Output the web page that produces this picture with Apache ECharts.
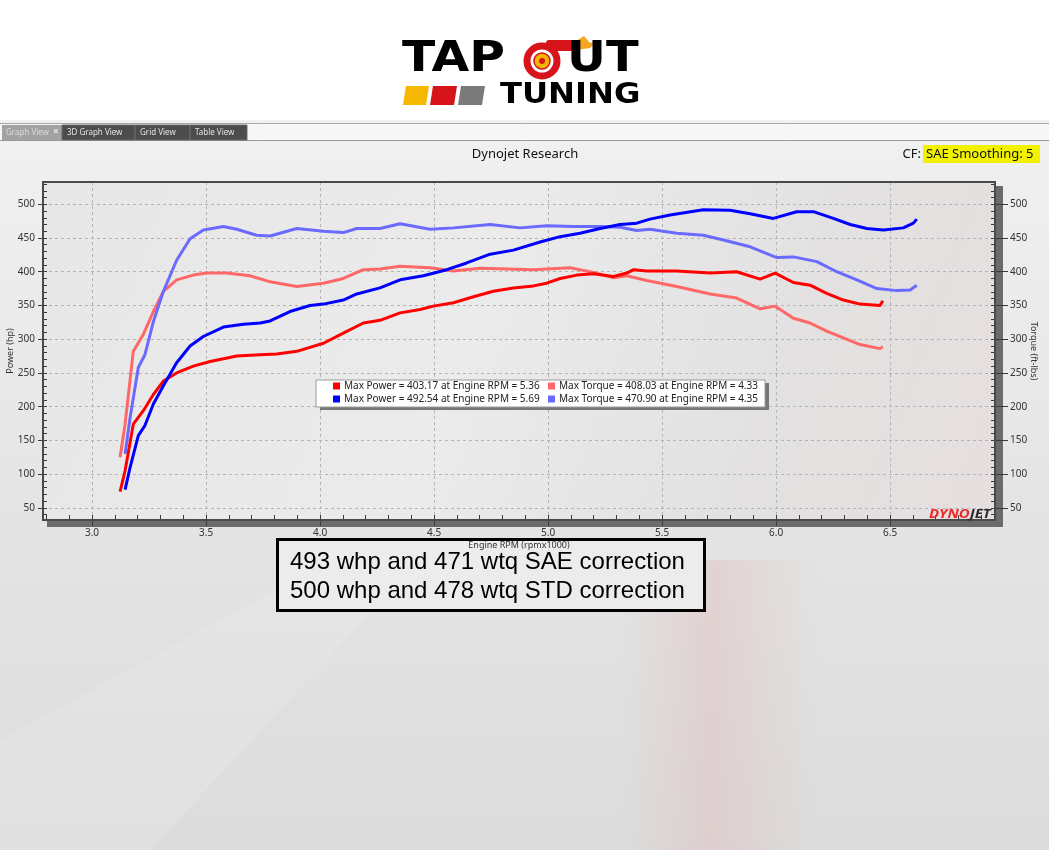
<!DOCTYPE html>
<html><head><meta charset="utf-8">
<script src="https://cdn.jsdelivr.net/npm/echarts@6/dist/echarts.min.js"></script>
<style>html,body{margin:0;padding:0;background:#fff}#c{width:1049px;height:850px}</style>
</head><body><div id="c"></div>
<script>
// ---- data (engine rpm in thousands) ----
const run1PowerRpm = [3.123,3.145,3.181,3.225,3.269,3.313,3.371,3.444,3.518,3.635,3.737,3.810,3.898,4.015,4.102,4.190,4.263,4.351,4.439,4.497,4.585,4.673,4.760,4.848,4.936,4.994,5.053,5.126,5.199,5.287,5.345,5.375,5.433,5.564,5.711,5.827,5.930,5.996,6.076,6.149,6.222,6.295,6.368,6.456,6.468];
const run1Power    = [74,105,174,194,218,238,250,260,267,275,277,278,282,294,309,324,328,339,344,349,354,363,371,376,379,383,390,395,397,393,398,403,401,401,398,400,389,398,384,380,368,358,352,350,357];
const run1TorqueRpm = [3.123,3.145,3.181,3.225,3.269,3.313,3.371,3.444,3.503,3.591,3.693,3.781,3.898,4.015,4.102,4.190,4.263,4.351,4.482,4.585,4.702,4.819,4.936,5.096,5.199,5.287,5.345,5.433,5.564,5.711,5.827,5.930,5.996,6.076,6.149,6.222,6.295,6.368,6.456,6.468];
const run1Torque    = [125,174,282,307,341,371,388,395,398,398,394,385,378,383,390,403,404,408,406,401,405,404,403,406,399,391,394,387,378,367,361,345,349,331,324,312,302,292,286,289];
const run2PowerRpm = [3.145,3.167,3.203,3.232,3.269,3.313,3.371,3.430,3.488,3.576,3.664,3.737,3.781,3.868,3.956,4.015,4.102,4.161,4.263,4.351,4.453,4.556,4.643,4.746,4.848,4.965,5.053,5.140,5.228,5.316,5.389,5.447,5.535,5.681,5.798,5.886,5.988,6.090,6.164,6.251,6.325,6.398,6.471,6.558,6.602,6.617];
const run2Power    = [77,110,157,172,204,231,265,290,304,318,322,324,327,341,350,352,358,367,376,388,394,403,413,426,432,444,452,457,464,470,472,478,484,492,491,486,479,489,489,479,470,464,462,465,472,478];
const run2TorqueRpm = [3.145,3.167,3.203,3.232,3.269,3.313,3.371,3.430,3.488,3.576,3.635,3.722,3.781,3.898,4.015,4.102,4.161,4.263,4.351,4.482,4.585,4.746,4.877,4.994,5.111,5.228,5.316,5.389,5.447,5.564,5.681,5.769,5.886,6.003,6.076,6.179,6.266,6.354,6.442,6.529,6.588,6.617];
const run2Torque    = [130,184,258,277,326,371,417,449,462,467,463,454,453,464,460,458,464,464,471,463,465,470,465,468,467,467,466,461,463,457,454,447,437,421,422,415,400,388,375,372,373,380];

const seriesNames = [
  'Max Power = 403.17 at Engine RPM = 5.36',
  'Max Torque = 408.03 at Engine RPM = 4.33',
  'Max Power = 492.54 at Engine RPM = 5.69',
  'Max Torque = 470.90 at Engine RPM = 4.35'
];
const xTickLabels = [3.0,3.5,4.0,4.5,5.0,5.5,6.0,6.5];
const xMinorTicks = [2.8,2.9,3.0,3.1,3.2,3.3,3.4,3.5,3.6,3.7,3.8,3.9,4.0,4.1,4.2,4.3,4.4,4.5,4.6,4.7,4.8,4.9,5.0,5.1,5.2,5.3,5.4,5.5,5.6,5.7,5.8,5.9,6.0,6.1,6.2,6.3,6.4,6.5,6.6,6.7,6.8,6.9];
const yTickLabels = [50,100,150,200,250,300,350,400,450,500];
const yMinorTicks = [40,50,60,70,80,90,100,110,120,130,140,150,160,170,180,190,200,210,220,230,240,250,260,270,280,290,300,310,320,330,340,350,360,370,380,390,400,410,420,430,440,450,460,470,480,490,500,510,520,530];

const pair = (xs, ys) => xs.map((x, i) => [x, ys[i]]);
const FONT = '"Noto Sans", "DejaVu Sans", sans-serif';
const X_MIN = 2.785, X_MAX = 6.96, Y_MIN = 32, Y_MAX = 533;
const tickCol = '#3a3a3a';
const dash = {type: [3, 3], color: '#b4b4b4', width: 1};

const chart = echarts.init(document.getElementById('c'), null, {renderer: 'canvas'});

const lg = (data, left) => ({
  data, left, top: 380, orient: 'vertical', itemWidth: 7, itemHeight: 7, itemGap: 1,
  icon: 'rect', padding: 0, selectedMode: false,
  textStyle: {fontSize: 10, color: '#222', fontFamily: FONT, lineHeight: 12, padding: [0, 0, 0, -1]}
});

const graphics = [
  // page background
  {type: 'rect', z: -20, shape: {x: 0, y: 120, width: 1049, height: 730},
   style: {fill: new echarts.graphic.LinearGradient(0, 0, 0, 1, [{offset: 0, color: '#f1f1f1'}, {offset: 0.55, color: '#e4e4e4'}, {offset: 1, color: '#dcdcdc'}])}},
  {type: 'polygon', z: -19, shape: {points: [[0, 740], [0, 850], [150, 850], [420, 560], [330, 560]]},
   style: {fill: 'rgba(255,255,255,0.12)'}},
  {type: 'rect', z: -19, shape: {x: 620, y: 560, width: 200, height: 290},
   style: {fill: new echarts.graphic.LinearGradient(0, 0, 1, 0, [{offset: 0, color: 'rgba(225,190,190,0)'}, {offset: 0.45, color: 'rgba(225,190,190,0.45)'}, {offset: 1, color: 'rgba(225,190,190,0)'}])}},
  // tab bar
  {type: 'rect', z: -15, shape: {x: 0, y: 123, width: 1049, height: 17}, style: {fill: '#f6f6f6'}},
  {type: 'line', z: -14, shape: {x1: 0, y1: 123.5, x2: 1049, y2: 123.5}, style: {stroke: '#a8a8a8', lineWidth: 1}},
  {type: 'line', z: -14, shape: {x1: 0, y1: 140.5, x2: 1049, y2: 140.5}, style: {stroke: '#9a9a9a', lineWidth: 1}},
  {type: 'rect', z: -13, shape: {x: 2, y: 125, width: 60, height: 15}, style: {fill: '#a2a2a2'}},
  {type: 'rect', z: -13, shape: {x: 62, y: 125, width: 73, height: 15}, style: {fill: '#4c4c4c', stroke: '#6a6a6a', lineWidth: 1}},
  {type: 'rect', z: -13, shape: {x: 135, y: 125, width: 55, height: 15}, style: {fill: '#4c4c4c', stroke: '#6a6a6a', lineWidth: 1}},
  {type: 'rect', z: -13, shape: {x: 190, y: 125, width: 57, height: 15}, style: {fill: '#4c4c4c', stroke: '#6a6a6a', lineWidth: 1}},
  {type: 'text', z: -12, style: {text: 'Graph View', x: 6, y: 133, fontSize: 8, fill: '#dadada', fontFamily: FONT, verticalAlign: 'middle'}},
  {type: 'text', z: -12, style: {text: '×', x: 53, y: 132.5, fontSize: 10, fontWeight: 'bold', fill: '#e6e6e6', fontFamily: FONT, verticalAlign: 'middle'}},
  {type: 'text', z: -12, style: {text: '3D Graph View', x: 67, y: 133, fontSize: 8, fill: '#e4e4e4', fontFamily: FONT, verticalAlign: 'middle'}},
  {type: 'text', z: -12, style: {text: 'Grid View', x: 140, y: 133, fontSize: 8, fill: '#e4e4e4', fontFamily: FONT, verticalAlign: 'middle'}},
  {type: 'text', z: -12, style: {text: 'Table View', x: 195, y: 133, fontSize: 8, fill: '#e4e4e4', fontFamily: FONT, verticalAlign: 'middle'}},
  // header texts
  {type: 'text', z: 5, style: {text: 'Dynojet Research', x: 525, y: 154, align: 'center', verticalAlign: 'middle', fontSize: 13, fill: '#111', fontFamily: FONT}},
  {type: 'rect', z: 4, shape: {x: 923, y: 145, width: 117, height: 18}, style: {fill: '#f2f200'}},
  {type: 'text', z: 5, style: {text: 'CF:', x: 921, y: 154, align: 'right', verticalAlign: 'middle', fontSize: 13, fill: '#111', fontFamily: FONT}},
  {type: 'text', z: 5, style: {text: 'SAE Smoothing: 5', x: 926, y: 154, align: 'left', verticalAlign: 'middle', fontSize: 13, fill: '#111', fontFamily: FONT}},
  // plot background
  {type: 'rect', z: -10, shape: {x: 43, y: 182, width: 952, height: 338},
   style: {fill: new echarts.graphic.LinearGradient(0, 0, 1, 1, [{offset: 0, color: '#e7e7e7'}, {offset: 0.45, color: '#ebebeb'}, {offset: 0.75, color: '#e3e1e1'}, {offset: 1, color: '#e6dede'}])}},
  // frame shadow & frame
  {type: 'rect', z: -9, shape: {x: 47, y: 521, width: 956, height: 6}, style: {fill: '#6b6b6b'}},
  {type: 'rect', z: -9, shape: {x: 996, y: 186, width: 7, height: 341}, style: {fill: '#6b6b6b'}},
  {type: 'rect', z: 3, shape: {x: 43, y: 182, width: 952, height: 338}, style: {fill: 'none', stroke: '#4a4a4a', lineWidth: 2}},
  // legend box
  {type: 'rect', z: 3, shape: {x: 320, y: 383, width: 449, height: 27}, style: {fill: '#777'}},
  {type: 'rect', z: 3, shape: {x: 316, y: 380, width: 449, height: 27}, style: {fill: '#fff', stroke: '#9a9a9a', lineWidth: 1}},
  // Dynojet mark
  {type: 'text', z: 4, x: 929, y: 514, scaleX: 1.15, style: {text: '{a|DYNO}{b|JET}', x: 0, y: 0, verticalAlign: 'middle',
    rich: {a: {fontSize: 13, fontWeight: 'bold', fontStyle: 'italic', fill: '#ee2a2a', fontFamily: FONT},
           b: {fontSize: 13, fontWeight: 'bold', fontStyle: 'italic', fill: '#2e2e2e', fontFamily: FONT}}}},
  // annotation box
  {type: 'rect', z: -5, shape: {x: 277.5, y: 539.5, width: 427, height: 71}, style: {fill: '#ececec', stroke: '#000', lineWidth: 3}},
  {type: 'text', z: 6, style: {text: '493 whp and 471 wtq SAE correction', x: 290, y: 562, verticalAlign: 'middle', fontSize: 24, fill: '#000', fontFamily: '"Liberation Sans", Arial, sans-serif'}},
  {type: 'text', z: 6, style: {text: '500 whp and 478 wtq STD correction', x: 290, y: 591, verticalAlign: 'middle', fontSize: 24, fill: '#000', fontFamily: '"Liberation Sans", Arial, sans-serif'}},
  // TAPOUT TUNING logo
  {type: 'text', z: 6, x: 402, y: 60, scaleX: 1.16, style: {text: 'TAP', x: 0, y: 0, verticalAlign: 'middle', fontSize: 42, fontWeight: 'bold', fill: '#000', fontFamily: '"DejaVu Sans", sans-serif'}},
  {type: 'rect', z: 6, shape: {x: 546, y: 40, width: 30, height: 11, r: 3}, style: {fill: '#d7141a'}},
  {type: 'polygon', z: 6, shape: {points: [[576, 41], [584, 36], [590, 43], [598, 40], [590, 48], [576, 50]]}, style: {fill: '#f5a623'}},
  {type: 'circle', z: 6, shape: {cx: 542, cy: 61, r: 15}, style: {fill: '#fff', stroke: '#d7141a', lineWidth: 7}},
  {type: 'circle', z: 6, shape: {cx: 542, cy: 61, r: 8}, style: {fill: '#f5b400', stroke: '#d7141a', lineWidth: 1.5}},
  {type: 'circle', z: 6, shape: {cx: 542, cy: 61, r: 3}, style: {fill: '#d7141a'}},
  {type: 'text', z: 6, x: 567, y: 60, scaleX: 1.14, style: {text: 'UT', x: 0, y: 0, verticalAlign: 'middle', fontSize: 42, fontWeight: 'bold', fill: '#000', fontFamily: '"DejaVu Sans", sans-serif'}},
  {type: 'polygon', z: 6, shape: {points: [[406, 86], [429, 86], [426, 105], [403, 105]]}, style: {fill: '#f6b800'}},
  {type: 'polygon', z: 6, shape: {points: [[433, 86], [457, 86], [454, 105], [430, 105]]}, style: {fill: '#d7141a'}},
  {type: 'polygon', z: 6, shape: {points: [[461, 86], [485, 86], [482, 105], [458, 105]]}, style: {fill: '#7a7a7a'}},
  {type: 'text', z: 6, x: 500, y: 96, scaleX: 1.15, style: {text: 'TUNING', x: 0, y: 0, verticalAlign: 'middle', fontSize: 28, fontWeight: 'bold', fill: '#000', fontFamily: '"DejaVu Sans", sans-serif'}}
];

const yMajor = (pos, name, nameRotate, tickLen, margin) => ({
  type: 'value', min: Y_MIN, max: Y_MAX, position: pos, name, nameLocation: 'middle', nameRotate,
  nameGap: pos === 'left' ? 28 : 34, nameMoveOverlap: false,
  nameTextStyle: {fontSize: 9, color: '#333', fontFamily: FONT},
  axisLine: {show: false},
  axisTick: {show: true, customValues: yTickLabels, inside: false, length: tickLen, lineStyle: {color: tickCol}},
  axisLabel: {customValues: yTickLabels, fontSize: 10, color: '#333', fontFamily: FONT, margin},
  splitLine: {show: pos === 'left', lineStyle: dash}
});
const yMinor = (pos) => ({
  type: 'value', min: Y_MIN, max: Y_MAX, position: pos,
  axisLine: {show: false},
  axisTick: {show: true, customValues: yMinorTicks, inside: true, length: 4, lineStyle: {color: tickCol}},
  axisLabel: {show: false}, splitLine: {show: false}
});

const lineSeries = (name, data, color, yIdx) => ({
  name, type: 'line', data, xAxisIndex: 0, yAxisIndex: yIdx, showSymbol: false, symbol: 'rect',
  lineStyle: {width: 3, color}, itemStyle: {color}, z: 2, animation: false
});

chart.setOption({
  animation: false,
  grid: {left: 43, right: 54, top: 182, bottom: 330, containLabel: false, outerBoundsMode: 'none'},
  legend: [lg([seriesNames[0], seriesNames[2]], 333), lg([seriesNames[1], seriesNames[3]], 548)],
  xAxis: [
    {type: 'value', min: X_MIN, max: X_MAX, position: 'bottom',
     name: 'Engine RPM (rpmx1000)', nameLocation: 'middle', nameGap: 21, nameMoveOverlap: false,
     nameTextStyle: {fontSize: 9, color: '#333', fontFamily: FONT},
     axisLine: {show: false},
     axisTick: {show: true, customValues: xTickLabels, inside: false, length: 6, lineStyle: {color: tickCol}},
     axisLabel: {customValues: xTickLabels, formatter: v => Number(v).toFixed(1), fontSize: 10, color: '#333', fontFamily: FONT, margin: 8},
     splitLine: {show: true, lineStyle: dash}},
    {type: 'value', min: X_MIN, max: X_MAX, position: 'bottom',
     axisLine: {show: false},
     axisTick: {show: true, customValues: xMinorTicks, inside: true, length: 5, lineStyle: {color: tickCol}},
     axisLabel: {show: false}, splitLine: {show: false}}
  ],
  yAxis: [
    yMajor('left', 'Power (hp)', 90, 5, 8),
    yMinor('left'),
    yMajor('right', 'Torque (ft-lbs)', -90, 13, 15),
    yMinor('right')
  ],
  graphic: graphics,
  series: [
    lineSeries(seriesNames[1], pair(run1TorqueRpm, run1Torque), '#ff6868', 2),
    lineSeries(seriesNames[3], pair(run2TorqueRpm, run2Torque), '#6a6aff', 2),
    lineSeries(seriesNames[0], pair(run1PowerRpm, run1Power), '#ff0000', 0),
    lineSeries(seriesNames[2], pair(run2PowerRpm, run2Power), '#0000ff', 0)
  ]
});
</script></body></html>
